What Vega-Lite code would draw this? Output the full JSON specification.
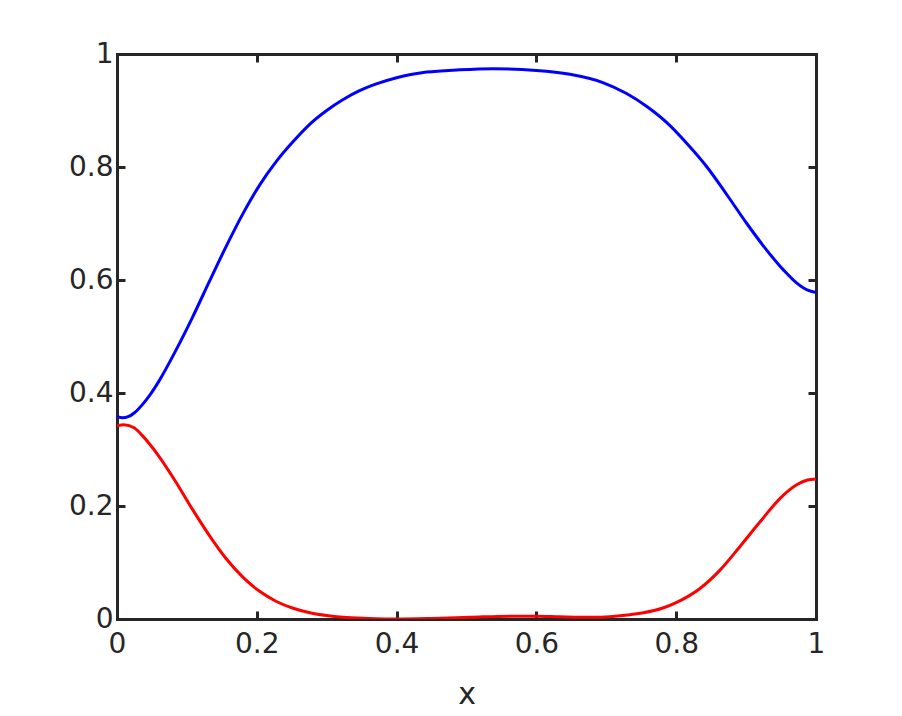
{
  "$schema": "https://vega.github.io/schema/vega-lite/v6.json",
  "width": 699,
  "height": 565,
  "autosize": {"type": "none"},
  "padding": {"left": 117, "top": 54, "right": 86, "bottom": 97},
  "background": "white",
  "config": {
    "view": {"stroke": null},
    "font": "DejaVu Sans",
    "axis": {
      "grid": false,
      "domainColor": "#262626",
      "domainWidth": 3,
      "domainCap": "square",
      "tickColor": "#262626",
      "tickWidth": 3,
      "tickSize": -8,
      "labelColor": "#262626",
      "labelFont": "DejaVu Sans",
      "labelFontSize": 28,
      "labelFlush": false,
      "titleColor": "#262626",
      "titleFont": "DejaVu Sans",
      "titleFontSize": 30,
      "titleFontWeight": "normal"
    }
  },
  "data": {
    "values": [
      {"x": 0.000, "y": 0.358, "s": "u"},
      {"x": 0.008, "y": 0.356, "s": "u"},
      {"x": 0.016, "y": 0.358, "s": "u"},
      {"x": 0.025, "y": 0.365, "s": "u"},
      {"x": 0.036, "y": 0.379, "s": "u"},
      {"x": 0.048, "y": 0.398, "s": "u"},
      {"x": 0.060, "y": 0.421, "s": "u"},
      {"x": 0.084, "y": 0.475, "s": "u"},
      {"x": 0.108, "y": 0.534, "s": "u"},
      {"x": 0.132, "y": 0.597, "s": "u"},
      {"x": 0.156, "y": 0.659, "s": "u"},
      {"x": 0.180, "y": 0.717, "s": "u"},
      {"x": 0.204, "y": 0.768, "s": "u"},
      {"x": 0.228, "y": 0.810, "s": "u"},
      {"x": 0.252, "y": 0.845, "s": "u"},
      {"x": 0.276, "y": 0.876, "s": "u"},
      {"x": 0.300, "y": 0.900, "s": "u"},
      {"x": 0.323, "y": 0.919, "s": "u"},
      {"x": 0.347, "y": 0.935, "s": "u"},
      {"x": 0.371, "y": 0.947, "s": "u"},
      {"x": 0.400, "y": 0.958, "s": "u"},
      {"x": 0.443, "y": 0.968, "s": "u"},
      {"x": 0.490, "y": 0.972, "s": "u"},
      {"x": 0.538, "y": 0.974, "s": "u"},
      {"x": 0.600, "y": 0.971, "s": "u"},
      {"x": 0.648, "y": 0.964, "s": "u"},
      {"x": 0.696, "y": 0.949, "s": "u"},
      {"x": 0.729, "y": 0.930, "s": "u"},
      {"x": 0.758, "y": 0.907, "s": "u"},
      {"x": 0.787, "y": 0.878, "s": "u"},
      {"x": 0.815, "y": 0.842, "s": "u"},
      {"x": 0.844, "y": 0.800, "s": "u"},
      {"x": 0.873, "y": 0.750, "s": "u"},
      {"x": 0.901, "y": 0.700, "s": "u"},
      {"x": 0.930, "y": 0.652, "s": "u"},
      {"x": 0.954, "y": 0.617, "s": "u"},
      {"x": 0.973, "y": 0.594, "s": "u"},
      {"x": 0.988, "y": 0.582, "s": "u"},
      {"x": 1.000, "y": 0.578, "s": "u"},
      {"x": 0.000, "y": 0.342, "s": "v"},
      {"x": 0.010, "y": 0.344, "s": "v"},
      {"x": 0.025, "y": 0.338, "s": "v"},
      {"x": 0.036, "y": 0.325, "s": "v"},
      {"x": 0.060, "y": 0.288, "s": "v"},
      {"x": 0.084, "y": 0.243, "s": "v"},
      {"x": 0.108, "y": 0.194, "s": "v"},
      {"x": 0.132, "y": 0.148, "s": "v"},
      {"x": 0.156, "y": 0.107, "s": "v"},
      {"x": 0.180, "y": 0.074, "s": "v"},
      {"x": 0.204, "y": 0.049, "s": "v"},
      {"x": 0.228, "y": 0.031, "s": "v"},
      {"x": 0.252, "y": 0.019, "s": "v"},
      {"x": 0.276, "y": 0.011, "s": "v"},
      {"x": 0.300, "y": 0.006, "s": "v"},
      {"x": 0.323, "y": 0.003, "s": "v"},
      {"x": 0.360, "y": 0.001, "s": "v"},
      {"x": 0.400, "y": 0.000, "s": "v"},
      {"x": 0.450, "y": 0.001, "s": "v"},
      {"x": 0.505, "y": 0.003, "s": "v"},
      {"x": 0.562, "y": 0.005, "s": "v"},
      {"x": 0.600, "y": 0.005, "s": "v"},
      {"x": 0.633, "y": 0.004, "s": "v"},
      {"x": 0.680, "y": 0.003, "s": "v"},
      {"x": 0.705, "y": 0.004, "s": "v"},
      {"x": 0.730, "y": 0.007, "s": "v"},
      {"x": 0.753, "y": 0.011, "s": "v"},
      {"x": 0.780, "y": 0.019, "s": "v"},
      {"x": 0.800, "y": 0.029, "s": "v"},
      {"x": 0.834, "y": 0.054, "s": "v"},
      {"x": 0.863, "y": 0.087, "s": "v"},
      {"x": 0.891, "y": 0.128, "s": "v"},
      {"x": 0.920, "y": 0.172, "s": "v"},
      {"x": 0.949, "y": 0.214, "s": "v"},
      {"x": 0.973, "y": 0.238, "s": "v"},
      {"x": 0.988, "y": 0.246, "s": "v"},
      {"x": 1.000, "y": 0.248, "s": "v"}
    ]
  },
  "layer": [
    {
      "mark": {"type": "line", "strokeWidth": 3, "interpolate": "monotone", "clip": true},
      "encoding": {
        "x": {"field": "x", "type": "quantitative", "scale": {"domain": [0, 1], "nice": false, "zero": false},
              "axis": {"orient": "bottom", "values": [0, 0.2, 0.4, 0.6, 0.8, 1], "format": "~g", "title": "x", "labelPadding": 19, "titlePadding": 21}},
        "y": {"field": "y", "type": "quantitative", "scale": {"domain": [0, 1], "nice": false, "zero": false},
              "axis": {"orient": "left", "values": [0, 0.2, 0.4, 0.6, 0.8, 1], "format": "~g", "title": null, "labelPadding": 12}},
        "color": {"field": "s", "type": "nominal", "scale": {"domain": ["u", "v"], "range": ["#0000ff", "#ff0000"]}, "legend": null}
      }
    },
    {
      "mark": {"type": "line", "opacity": 0},
      "encoding": {
        "x": {"field": "x", "type": "quantitative", "axis": {"orient": "top", "values": [0, 0.2, 0.4, 0.6, 0.8, 1], "labels": false, "title": null}},
        "y": {"field": "y", "type": "quantitative", "axis": {"orient": "right", "values": [0, 0.2, 0.4, 0.6, 0.8, 1], "labels": false, "title": null}},
        "detail": {"field": "s", "type": "nominal"}
      }
    }
  ],
  "resolve": {"axis": {"x": "independent", "y": "independent"}}
}
